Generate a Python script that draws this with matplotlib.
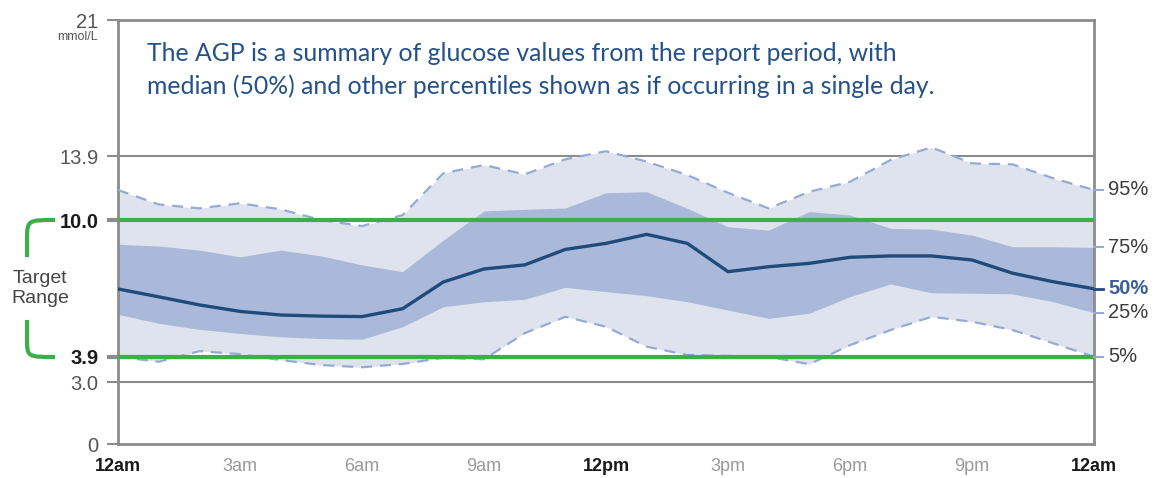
import numpy as np
import matplotlib
matplotlib.use('Agg')
import matplotlib.pyplot as plt
from matplotlib.path import Path
from matplotlib.patches import PathPatch

# glucose percentiles (mmol/L) read hourly from the AGP, 12am -> 12am
hours = list(range(25))
p95 = [11.83, 10.95, 10.71, 11.02, 10.65, 10.00, 9.73, 10.30, 12.85, 13.35, 12.78, 13.70, 14.15,
       13.56, 12.74, 11.66, 10.71, 11.72, 12.33, 13.66, 14.35, 13.45, 13.39, 12.54, 11.83]
p75 = [8.92, 8.84, 8.66, 8.36, 8.66, 8.40, 8.00, 7.70, 9.11, 10.55, 10.65, 10.73, 11.66,
       11.72, 10.71, 9.70, 9.55, 10.51, 10.30, 9.63, 9.59, 9.33, 8.81, 8.81, 8.78]
p50 = [6.93, 6.58, 6.22, 5.93, 5.77, 5.72, 5.70, 6.05, 7.24, 7.82, 8.00, 8.69, 8.96,
       9.36, 8.96, 7.70, 7.92, 8.07, 8.34, 8.40, 8.40, 8.22, 7.63, 7.25, 6.94]
p25 = [5.80, 5.40, 5.13, 4.95, 4.80, 4.72, 4.69, 5.25, 6.14, 6.36, 6.47, 7.00, 6.81,
       6.63, 6.36, 5.99, 5.62, 5.85, 6.59, 7.15, 6.76, 6.74, 6.71, 6.36, 5.87]
p5 = [3.91, 3.73, 4.16, 4.03, 3.79, 3.61, 3.53, 3.65, 3.87, 3.82, 4.96, 5.69, 5.25,
      4.36, 3.99, 3.95, 3.91, 3.64, 4.43, 5.10, 5.69, 5.47, 5.10, 4.51, 3.91]

x_ticks = [0, 3, 6, 9, 12, 15, 18, 21, 24]
x_labels = ['12am', '3am', '6am', '9am', '12pm', '3pm', '6pm', '9pm', '12am']
y_ticks = [0, 3.0, 3.9, 10.0, 13.9, 21]
y_labels = ['0', '3.0', '3.9', '10.0', '13.9', '21']
target_low, target_high = 3.9, 10.0

# the AGP y axis is not linear: fixed spacing between the reference values
y_pos = [0, 62, 87, 224, 288, 424]

def fwd(v):
    return np.interp(v, y_ticks, y_pos)

def inv(p):
    return np.interp(p, y_pos, y_ticks)

light = '#dee3ee'
dark = '#aab9d9'
dash_c = '#97aad6'
median_c = '#1f4a7c'
green = '#3dae4a'
grey = '#8c8c8c'

plt.rcParams['font.family'] = ['Liberation Sans', 'DejaVu Sans']

fig = plt.figure(figsize=(11.61, 4.78), dpi=100)
ax = fig.add_axes([118 / 1161, 1 - 444 / 478, 976 / 1161, 424 / 478])
ax.set_yscale('function', functions=(fwd, inv))
ax.set_xlim(0, 24)
ax.set_ylim(0, 21)

ax.fill_between(hours, p5, p95, color=light, lw=0, zorder=1)
ax.fill_between(hours, p25, p75, color=dark, lw=0, zorder=2)
ax.plot(hours, p95, color=dash_c, lw=1.6, ls=(0, (5, 3.5)), zorder=3)
ax.plot(hours, p5, color=dash_c, lw=1.6, ls=(0, (5, 3.5)), zorder=3)

# reference lines
for v in (3.0, 13.9):
    ax.axhline(v, color=grey, lw=1.5, zorder=0)
for v in (target_low, target_high):
    ax.axhline(v, color=green, lw=3, zorder=4)

ax.plot(hours, p50, color=median_c, lw=2.4, zorder=5, solid_joinstyle='round')

# short markers on the right edge for each percentile
for series, c in ((p95, dash_c), (p75, dash_c), (p25, dash_c), (p5, dash_c), (p50, median_c)):
    ax.plot([24, 24.22], [series[-1], series[-1]], color=c, lw=2 if c == median_c else 1.5,
            clip_on=False, zorder=5)

labels_right = [(p95, '95%'), (p75, '75%'), (p50, '50%'), (p25, '25%'), (p5, '5%')]
for series, lab in labels_right:
    is_med = lab == '50%'
    ax.annotate(lab, xy=(1, series[-1]), xycoords=ax.get_yaxis_transform(),
                xytext=(14, 0), textcoords='offset pixels', ha='left', va='center',
                fontsize=14.5, color='#3a5f9a' if is_med else '#3c3c3c',
                fontweight='bold' if is_med else 'normal')

for s in ax.spines.values():
    s.set_color(grey)
    s.set_linewidth(2)

ax.set_xticks(x_ticks)
ax.set_xticklabels(x_labels)
ax.tick_params(axis='x', length=0, pad=10, labelsize=13)
for i, t in enumerate(ax.get_xticklabels()):
    if x_labels[i] in ('12am', '12pm'):
        t.set_color('#1a1a1a')
        t.set_fontweight('bold')
    else:
        t.set_color('#9a9a9a')

ax.set_yticks(y_ticks)
ax.set_yticklabels(y_labels)
ax.yaxis.set_minor_locator(matplotlib.ticker.NullLocator())
ax.tick_params(axis='y', length=8, width=1.5, color=grey, pad=6, labelsize=14.5, labelcolor='#555555')
for tick, v in zip(ax.yaxis.get_major_ticks(), y_ticks):
    if v in (target_low, target_high):
        tick.tick1line.set_color(green)
        tick.tick1line.set_markeredgewidth(3)
        tick.label1.set_fontweight('bold')
        tick.label1.set_color('#1a1a1a')

ax.annotate('mmol/L', xy=(0, 21), xycoords=ax.get_yaxis_transform(),
            xytext=(-20, -17), textcoords='offset pixels', ha='right', va='center',
            fontsize=9, color='#555555')

# Target Range bracket
tr = ax.get_yaxis_transform()
xa = (27 - 118) / 976
xb = (55 - 118) / 976
top_v = [(xb, 10.0), (xa, 10.0), (xa, 10.0), (xa, 9.05), (xa, 8.35)]
bot_v = [(xa, 5.55), (xa, 4.75), (xa, 3.9), (xa, 3.9), (xb, 3.9)]
codes = [Path.MOVETO, Path.CURVE4, Path.CURVE4, Path.CURVE4, Path.LINETO]
codes_b = [Path.MOVETO, Path.LINETO, Path.CURVE4, Path.CURVE4, Path.CURVE4]
for verts, cd in ((top_v, codes), (bot_v, codes_b)):
    ax.add_patch(PathPatch(Path(verts, cd), transform=tr, fill=False, ec=green,
                           lw=3, clip_on=False, capstyle='butt'))
ax.text((40 - 118) / 976, 6.95, 'Target\nRange', transform=tr, ha='center', va='center',
        fontsize=14, color='#444444', linespacing=1.3)

ax.text((147 - 118) / 976, (444 - 70) / 424,
        'The AGP is a summary of glucose values from the report period, with\n'
        'median (50%) and other percentiles shown as if occurring in a single day.',
        transform=ax.transAxes, ha='left', va='center', fontsize=17.8,
        family=['Lato', 'DejaVu Sans'], color='#24518a', linespacing=1.45, zorder=6)

fig.savefig('out.png', dpi=100)
